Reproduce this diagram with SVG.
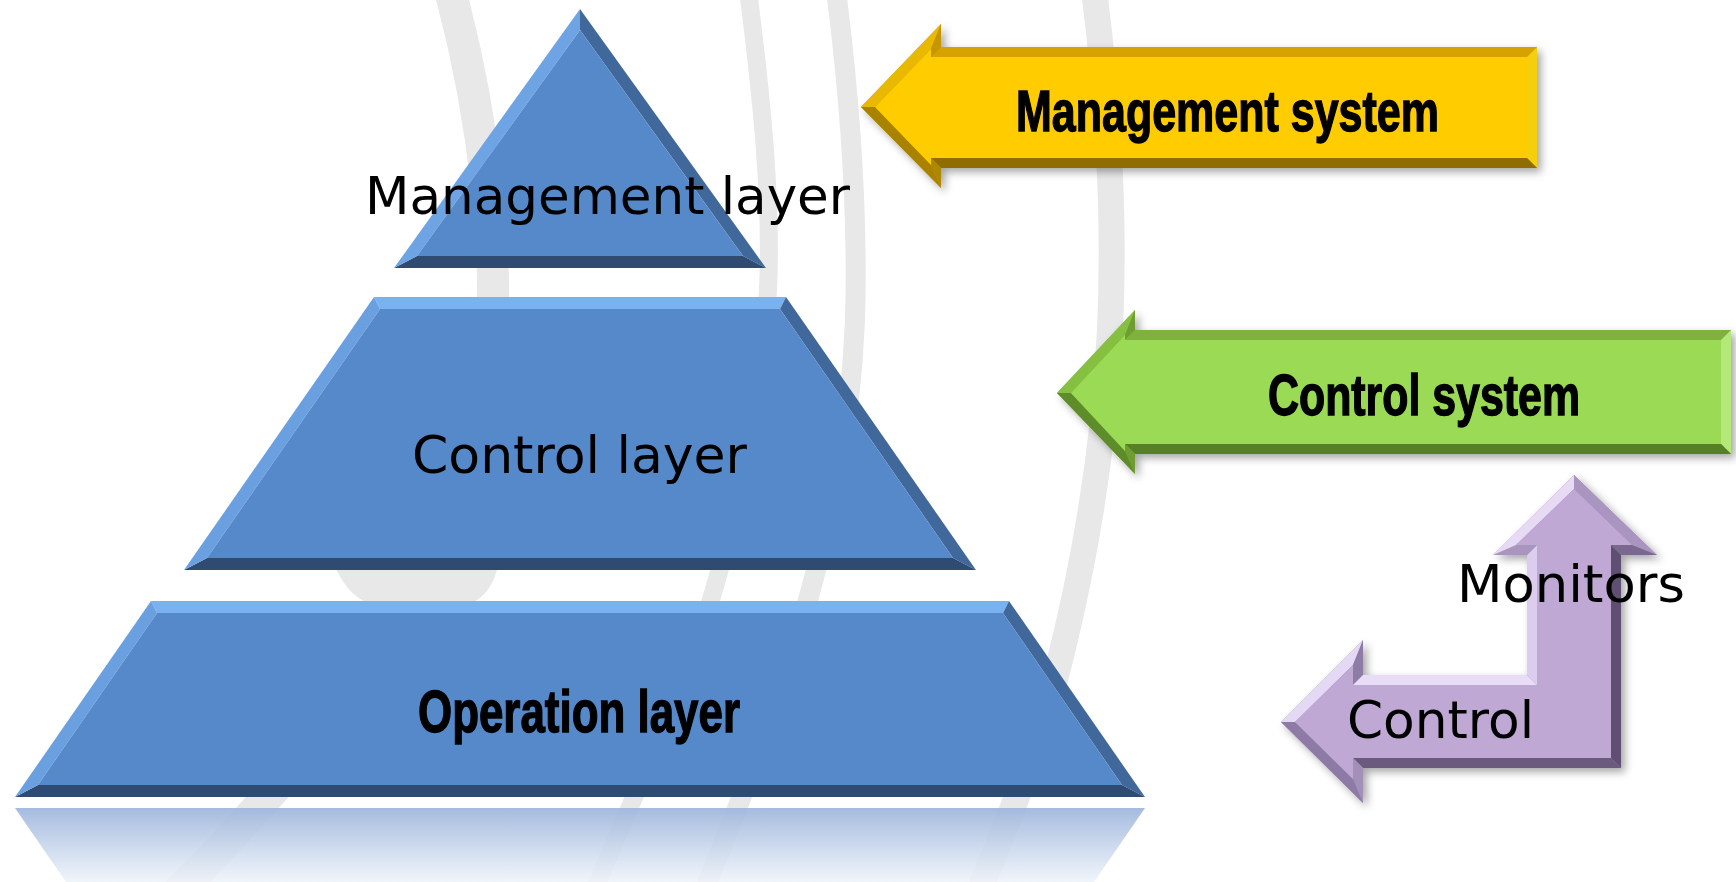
<svg xmlns="http://www.w3.org/2000/svg" width="1736" height="882" viewBox="0 0 1736 882">
<defs>
<style>
.band{fill:none;stroke:#e8e8e8;stroke-linecap:butt}
.lbl{font-family:"DejaVu Sans","Noto Sans",sans-serif;font-size:52px;fill:#000}
.bold{font-family:"Liberation Sans",Arial,sans-serif;font-weight:bold;fill:#000;stroke:#000;stroke-width:1.4}
</style>
<linearGradient id="refl" x1="0" y1="808" x2="0" y2="882" gradientUnits="userSpaceOnUse">
<stop offset="0" stop-color="#9db5dc" stop-opacity="0.92"/>
<stop offset="1" stop-color="#eef3fa" stop-opacity="0.85"/>
</linearGradient>
<filter id="shadow" x="-5%" y="-10%" width="115%" height="130%">
<feDropShadow dx="4" dy="4" stdDeviation="4" flood-color="#000" flood-opacity="0.35"/>
</filter>
</defs>
<rect width="1736" height="882" fill="#fff"/>

<g id="background">
<path class="band" stroke-width="32" d="M 450 -10 C 485 120, 500 260, 490 360 C 478 470, 440 560, 380 650 C 330 730, 250 820, 170 900"/>
<path d="M 335 566 C 345 590, 360 604, 382 606 L 458 606 C 480 604, 492 590, 498 566 Z" fill="#e8e8e8"/>
<path class="band" stroke-width="18" d="M 748 -10 C 762 100, 772 200, 768 290 C 762 420, 735 520, 705 620 C 680 700, 640 780, 590 900"/>
<path class="band" stroke-width="20" d="M 836 -10 C 850 100, 858 220, 855 320 C 850 440, 830 520, 808 600 C 790 670, 750 780, 700 900"/>
<path class="band" stroke-width="26" d="M 1094 -10 C 1108 100, 1115 220, 1110 330 C 1104 450, 1085 560, 1060 660 C 1040 740, 1010 820, 975 900"/>
</g>

<g id="management-layer">
<polygon points="580,9 766,268 743,256 580,30" fill="#41689b"/>
<polygon points="394,268 766,268 743,256 417,256" fill="#2f4b72"/>
<polygon points="394,268 580,9 580,30 417,256" fill="#6ea4e4"/>
<polygon points="580,30 743,256 417,256" fill="#5589c9"/>
<text class="lbl" x="365" y="214" textLength="485" lengthAdjust="spacingAndGlyphs">Management layer</text>
</g>

<g id="control-layer">
<polygon points="374,297 786,297 780,309 380,309" fill="#7ab1ef"/>
<polygon points="786,297 976,570 953,558 780,309" fill="#41689b"/>
<polygon points="184,570 976,570 953,558 207,558" fill="#2f4b72"/>
<polygon points="184,570 374,297 380,309 207,558" fill="#6aa0e0"/>
<polygon points="380,309 780,309 953,558 207,558" fill="#5589c9"/>
<text class="lbl" x="412" y="473" textLength="335" lengthAdjust="spacingAndGlyphs">Control layer</text>
</g>

<g id="operation-layer">
<polygon points="15,808 1145,808 1094,882 66,882" fill="url(#refl)"/>
<polygon points="151,601 1009,601 1003,613 157,613" fill="#7ab1ef"/>
<polygon points="1009,601 1145,797 1122,785 1003,613" fill="#41689b"/>
<polygon points="15,797 1145,797 1122,785 38,785" fill="#2f4b72"/>
<polygon points="15,797 151,601 157,613 38,785" fill="#6aa0e0"/>
<polygon points="157,613 1003,613 1122,785 38,785" fill="#5589c9"/>
<text class="bold" x="418" y="732" font-size="60" textLength="322" lengthAdjust="spacingAndGlyphs">Operation layer</text>
</g>

<g id="management-system">
<g filter="url(#shadow)">
<polygon points="861,107 941,24 941,47 1537,47 1537,168 941,168 941,188" fill="#c89a00"/>
<polygon points="861,107 941,24 931,49 875,107" fill="#e9b800"/>
<polygon points="941,24 941,47 931,57 931,49" fill="#c79500"/>
<polygon points="941,47 1537,47 1527,57 931,57" fill="#d6a200"/>
<polygon points="1537,47 1537,168 1527,158 1527,57" fill="#f3cf10"/>
<polygon points="1537,168 941,168 931,158 1527,158" fill="#8f6d00"/>
<polygon points="941,168 941,188 931,165 931,158" fill="#b08700"/>
<polygon points="941,188 861,107 875,107 931,165" fill="#a98200"/>
<polygon points="875,107 931,49 931,57 1527,57 1527,158 931,158 931,165" fill="#ffcc00"/>
</g>
<text class="bold" x="1016" y="131" font-size="58" textLength="423" lengthAdjust="spacingAndGlyphs">Management system</text>
</g>

<g id="control-system">
<g filter="url(#shadow)">
<polygon points="1057,393 1135,310 1135,330 1731,330 1731,454 1135,454 1135,474" fill="#7fb23e"/>
<polygon points="1057,393 1135,310 1125,335 1071,393" fill="#86c040"/>
<polygon points="1135,310 1135,330 1125,340 1125,335" fill="#6e9e33"/>
<polygon points="1135,330 1731,330 1721,340 1125,340" fill="#7fb23e"/>
<polygon points="1731,330 1731,454 1721,444 1721,340" fill="#b4e878"/>
<polygon points="1731,454 1135,454 1125,444 1721,444" fill="#567f27"/>
<polygon points="1135,454 1135,474 1125,451 1125,444" fill="#6e9e33"/>
<polygon points="1135,474 1057,393 1071,393 1125,451" fill="#5f8c2b"/>
<polygon points="1071,393 1125,335 1125,340 1721,340 1721,444 1125,444 1125,451" fill="#9bda55"/>
</g>
<text class="bold" x="1268" y="415" font-size="58" textLength="312" lengthAdjust="spacingAndGlyphs">Control system</text>
</g>

<g id="monitor-control-arrow">
<g filter="url(#shadow)">
<polygon points="1574,475 1657,555 1621,555 1621,768 1363,768 1363,803 1281,722 1363,640 1363,675 1527,675 1527,555 1493,555" fill="#a48fbb"/>
<polygon points="1574,475 1657,555 1632,545 1574,489" fill="#a995c0"/>
<polygon points="1657,555 1621,555 1611,545 1632,545" fill="#7a6890"/>
<polygon points="1621,555 1621,768 1611,758 1611,545" fill="#5f4f72"/>
<polygon points="1621,768 1363,768 1353,758 1611,758" fill="#6a5a7e"/>
<polygon points="1363,768 1363,803 1353,779 1353,758" fill="#a290b8"/>
<polygon points="1363,803 1281,722 1295,722 1353,779" fill="#8e7aa6"/>
<polygon points="1281,722 1363,640 1353,665 1295,722" fill="#e4d8f4"/>
<polygon points="1363,640 1363,675 1353,685 1353,665" fill="#8f7ba6"/>
<polygon points="1363,675 1527,675 1537,685 1353,685" fill="#e8dcf6"/>
<polygon points="1527,675 1527,555 1537,545 1537,685" fill="#dccdef"/>
<polygon points="1527,555 1493,555 1516,545 1537,545" fill="#a996bf"/>
<polygon points="1493,555 1574,475 1574,489 1516,545" fill="#e6daf5"/>
<polygon points="1574,489 1632,545 1611,545 1611,758 1353,758 1353,779 1295,722 1353,665 1353,685 1537,685 1537,545 1516,545" fill="#bfa8d4"/>
</g>
<text class="lbl" x="1457" y="602" textLength="228" lengthAdjust="spacingAndGlyphs">Monitors</text>
<text class="lbl" x="1347" y="738" textLength="187" lengthAdjust="spacingAndGlyphs">Control</text>
</g>
</svg>
